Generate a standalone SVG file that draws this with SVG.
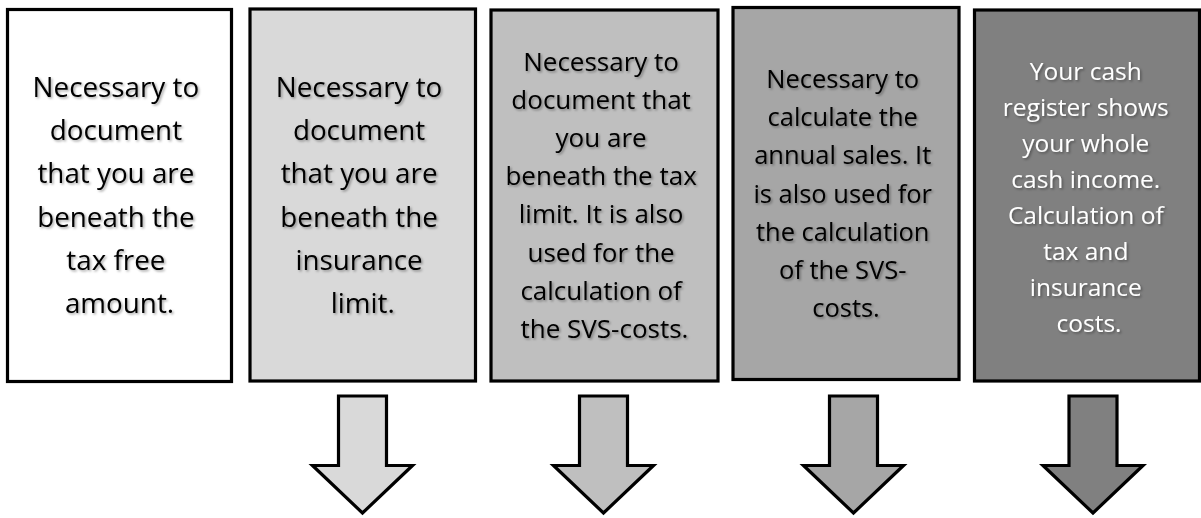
<svg xmlns="http://www.w3.org/2000/svg" width="1201" height="518" viewBox="0 0 1201 518">
  <defs>
    <filter id="shadow" x="-10%" y="-30%" width="120%" height="160%">
      <feDropShadow dx="1.5" dy="1.5" stdDeviation="1" flood-color="#000" flood-opacity="0.35"/>
    </filter>
    <path id="arrowShape" d="M -24 396 L 24 396 L 24 465.5 L 50 465.5 L 0 513 L -50 465.5 L -24 465.5 Z"/>
  </defs>
  <style>
    .box { stroke: #000; stroke-width: 3.2; }
    .arrow { stroke: #000; stroke-width: 3.2; stroke-linejoin: miter; }
    .lbl { font-family: "Open Sans", "Noto Sans", sans-serif; text-anchor: middle; fill: #000; filter: url(#shadow); }
    .lbl.light { fill: #fff; }
  </style>
  <rect width="1201" height="518" fill="#fff"/>

  <g id="node1">
    <rect class="box" x="7.5" y="9.5" width="224" height="372" fill="#ffffff"/>
    <text class="lbl" font-size="27.8">
      <tspan x="119.5" y="97">Necessary to</tspan>
      <tspan x="119.5" y="140.2">document</tspan>
      <tspan x="119.5" y="183.4">that you are</tspan>
      <tspan x="119.5" y="226.6">beneath the</tspan>
      <tspan x="119.5" y="269.8">tax free</tspan>
      <tspan x="119.5" y="313">amount.</tspan>
    </text>
  </g>

  <g id="node2">
    <rect class="box" x="250" y="9" width="225.5" height="372" fill="#d9d9d9"/>
    <text class="lbl" font-size="27.8">
      <tspan x="362.7" y="97">Necessary to</tspan>
      <tspan x="362.7" y="140.2">document</tspan>
      <tspan x="362.7" y="183.4">that you are</tspan>
      <tspan x="362.7" y="226.6">beneath the</tspan>
      <tspan x="362.7" y="269.8">insurance</tspan>
      <tspan x="362.7" y="313">limit.</tspan>
    </text>
  </g>

  <g id="node3">
    <rect class="box" x="491" y="10" width="227" height="371" fill="#bfbfbf"/>
    <text class="lbl" font-size="26">
      <tspan x="604.5" y="71">Necessary to</tspan>
      <tspan x="604.5" y="109.1">document that</tspan>
      <tspan x="604.5" y="147.2">you are</tspan>
      <tspan x="604.5" y="185.3">beneath the tax</tspan>
      <tspan x="604.5" y="223.4">limit. It is also</tspan>
      <tspan x="604.5" y="261.5">used for the</tspan>
      <tspan x="604.5" y="299.6">calculation of</tspan>
      <tspan x="604.5" y="337.7">the SVS-costs.</tspan>
    </text>
  </g>

  <g id="node4">
    <rect class="box" x="733" y="7.5" width="226" height="372" fill="#a6a6a6"/>
    <text class="lbl" font-size="25.5">
      <tspan x="846" y="88">Necessary to</tspan>
      <tspan x="846" y="126.2">calculate the</tspan>
      <tspan x="846" y="164.4">annual sales. It</tspan>
      <tspan x="846" y="202.6">is also used for</tspan>
      <tspan x="846" y="240.8">the calculation</tspan>
      <tspan x="846" y="279">of the SVS-</tspan>
      <tspan x="846" y="317.2">costs.</tspan>
    </text>
  </g>

  <g id="node5">
    <rect class="box" x="974.5" y="10" width="225" height="371" fill="#808080"/>
    <text class="lbl light" font-size="24.5">
      <tspan x="1089" y="80">Your cash</tspan>
      <tspan x="1089" y="116">register shows</tspan>
      <tspan x="1089" y="152">your whole</tspan>
      <tspan x="1089" y="188">cash income.</tspan>
      <tspan x="1089" y="224">Calculation of</tspan>
      <tspan x="1089" y="260">tax and</tspan>
      <tspan x="1089" y="296">insurance</tspan>
      <tspan x="1089" y="332">costs.</tspan>
    </text>
  </g>

  <g id="connectors">
    <use href="#arrowShape" class="arrow" fill="#d9d9d9" transform="translate(362.5 0)"/>
    <use href="#arrowShape" class="arrow" fill="#bfbfbf" transform="translate(603.5 0)"/>
    <use href="#arrowShape" class="arrow" fill="#a6a6a6" transform="translate(853.5 0)"/>
    <use href="#arrowShape" class="arrow" fill="#808080" transform="translate(1093 0)"/>
  </g>
</svg>
